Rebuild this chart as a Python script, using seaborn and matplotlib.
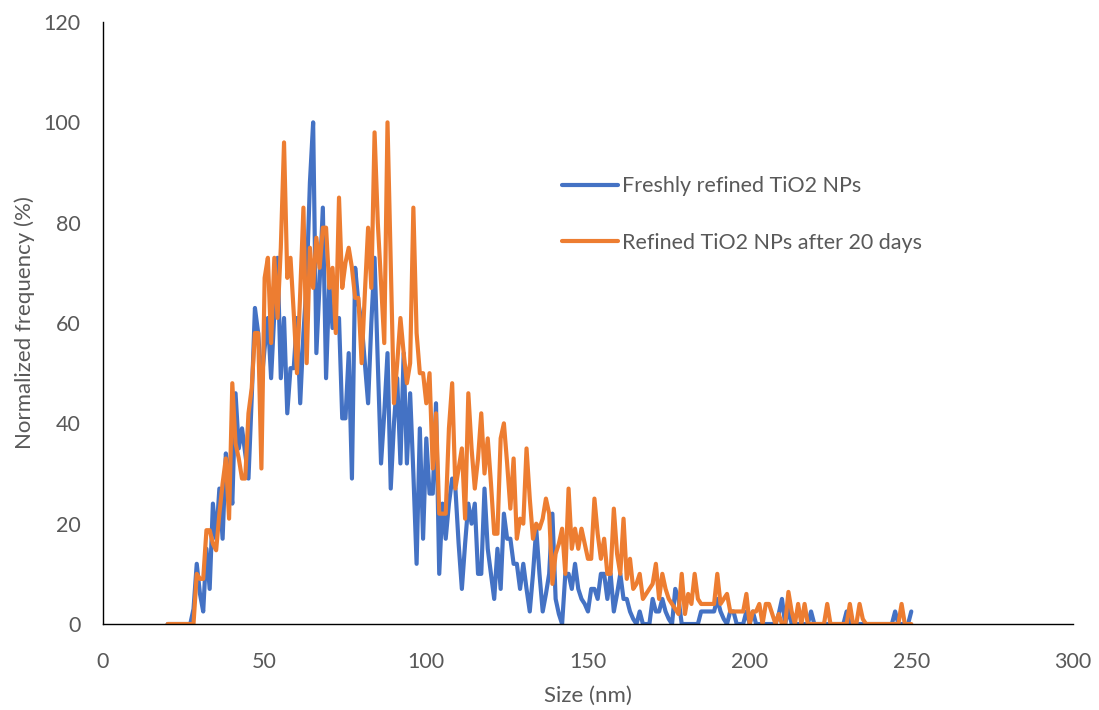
import numpy as np
import pandas as pd
import matplotlib
matplotlib.use("Agg")
import matplotlib.pyplot as plt
import seaborn as sns

# Particle size grid (nm), one reading per nanometre
size_nm = list(range(20, 251))

# Freshly refined TiO2 NPs: normalized frequency (%)
fresh = [
    0, 0, 0, 0, 0, 0, 0, 0,                      # 20-27
    3, 12, 6, 2.5, 15, 7, 24, 17, 27, 17,         # 28-37
    34, 30, 24, 46, 35, 39, 34, 29, 45, 63,       # 38-47
    58, 48, 55, 61, 49, 62, 73, 49, 61, 42,       # 48-57
    51, 51, 61, 44, 58, 68, 88, 100, 54, 68,      # 58-67
    83, 49, 68, 59, 60, 61, 41, 41, 54, 29,       # 68-77
    71, 64, 60, 52, 44, 60, 73, 52, 32, 42,       # 78-87
    54, 27, 40, 49, 32, 54, 32, 46, 30, 12,       # 88-97
    39, 17, 37, 26, 26, 44, 10, 24, 17, 24,       # 98-107
    29, 27, 16, 7, 16, 24, 20, 24, 10, 10,        # 108-117
    27, 15, 10, 5, 15, 7, 22, 17, 17, 12,         # 118-127
    12, 7, 12, 7, 2.5, 10, 19, 10, 2.5, 6,        # 128-137
    10, 22, 5, 2, 0, 10, 10, 7, 12, 7,            # 138-147
    5, 4, 2.5, 7, 7, 5, 10, 10, 5, 10,            # 148-157
    2.5, 6, 10, 5, 5, 2.5, 1, 0, 2.5, 0,          # 158-167
    0, 0, 5, 2.5, 2.5, 5, 2.5, 1, 0, 7,           # 168-177
    5, 0, 0, 0, 0, 0, 0, 2.5, 2.5, 2.5,           # 178-187
    2.5, 2.5, 5, 2.5, 1, 0, 2.5, 2.5, 0, 0,       # 188-197
    0, 2.5, 0, 2.5, 0, 0, 0, 0, 0, 0,             # 198-207
    0, 2, 5, 0, 3, 0, 0, 0, 0, 0,                 # 208-217
    0, 2.5, 0, 0, 0, 0, 0, 0, 0, 0,               # 218-227
    0, 0, 2.5, 0, 0, 0, 0, 0, 0, 0,               # 228-237
    0, 0, 0, 0, 0, 0, 0, 2.5, 0, 0,               # 238-247
    0, 0, 2.5,                                    # 248-250
]

# Refined TiO2 NPs after 20 days: normalized frequency (%)
aged = [
    0, 0, 0, 0, 0, 0, 0, 0, 0,                    # 20-28
    10, 9, 9, 18.7, 18.7, 16, 14.7, 22, 28, 33,   # 29-38
    21, 48, 36, 33, 29, 29, 42, 47, 58, 58,       # 39-48
    31, 69, 73, 56, 73, 61, 75, 96, 69, 73,       # 49-58
    62, 50, 66, 83, 52, 75, 67, 77, 71, 79,       # 59-68
    79, 67, 71, 58, 85, 67, 72, 75, 71, 65,       # 69-78
    65, 52, 66, 79, 67, 98, 80, 68, 56, 100,      # 79-88
    72, 44, 52, 61, 54, 48, 52, 83, 58, 50,       # 89-98
    50, 44, 50, 31, 42, 22, 22, 22, 39, 48,       # 99-108
    27, 31, 35, 21, 46, 35, 27, 33, 42, 30,       # 109-118
    37, 28, 18, 18, 37, 40, 32, 23, 33, 17,       # 119-128
    21, 20, 35, 25, 17, 20, 19, 21, 25, 22,       # 129-138
    8, 14, 16, 19, 10, 27, 15, 19, 15, 19,        # 139-148
    16, 13, 13, 25, 18, 13, 17, 10, 10, 23,       # 149-158
    14, 10, 21, 9, 13, 7, 8, 10, 5, 6,            # 159-168
    7, 8, 12, 5, 10, 7, 5, 4, 3, 2,               # 169-178
    10, 2, 6, 4, 10, 5, 4, 4, 4, 4,               # 179-188
    4, 10, 4, 5, 6, 2.5, 2.5, 2.5, 2.5, 2.5,      # 189-198
    6, 0, 2.5, 2.5, 4, 0, 4, 4, 2, 0,             # 199-208
    2, 0, 0, 6.4, 2.5, 0, 4, 0, 4, 0,             # 209-218
    0, 0, 0, 0, 0, 4, 0, 0, 0, 0,                 # 219-228
    0, 0, 4, 0, 0, 4, 1, 0, 0, 0,                 # 229-238
    0, 0, 0, 0, 0, 0, 0, 0, 4, 0,                 # 239-248
    0, 0,                                         # 249-250
]

series_names = ["Freshly refined TiO2 NPs", "Refined TiO2 NPs after 20 days"]
series_colors = ["#4472C4", "#ED7D31"]

x_ticks = [0, 50, 100, 150, 200, 250, 300]
y_ticks = [0, 20, 40, 60, 80, 100, 120]

df = pd.concat([
    pd.DataFrame({"Size (nm)": size_nm, "freq": fresh, "series": series_names[0]}),
    pd.DataFrame({"Size (nm)": size_nm, "freq": aged, "series": series_names[1]}),
], ignore_index=True)

sns.set_theme(style="white")
plt.rcParams["font.family"] = ["Lato", "DejaVu Sans"]

fig = plt.figure(figsize=(10.99, 7.10), dpi=100)
ax = fig.add_axes([0.0937, 0.1211, 0.8826, 0.8479])

sns.lineplot(data=df, x="Size (nm)", y="freq", hue="series",
             palette=series_colors, hue_order=series_names,
             estimator=None, sort=False, linewidth=3.0, ax=ax)

ax.set_xlim(0, 300)
ax.set_ylim(0, 120)
ax.set_xticks(x_ticks)
ax.set_yticks(y_ticks)

text_gray = "#595959"
ax.tick_params(axis="both", length=0, labelsize=15.5, colors=text_gray)
ax.tick_params(axis="y", pad=16)
ax.tick_params(axis="x", pad=20)
ax.set_xlabel("Size (nm)", fontsize=16, color=text_gray, labelpad=10)
ax.set_ylabel("Normalized frequency (%)", fontsize=16, color=text_gray, labelpad=6)

for side in ["top", "right"]:
    ax.spines[side].set_visible(False)
for side in ["left", "bottom"]:
    ax.spines[side].set_color("black")
    ax.spines[side].set_linewidth(1.0)

ax.legend(title=None, frameon=False, fontsize=15.5,
          loc="upper left", bbox_to_anchor=(0.462, 0.762),
          borderpad=0, handlelength=2.6, handletextpad=0.2,
          labelspacing=1.7)
for line in ax.get_legend().get_lines():
    line.set_linewidth(3)
for t in ax.get_legend().get_texts():
    t.set_color(text_gray)

fig.savefig("out.png", dpi=100)
